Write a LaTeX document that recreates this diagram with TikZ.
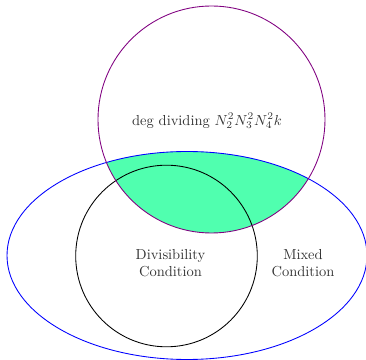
\documentclass[tikz,border=0pt]{standalone}
\definecolor{mint}{RGB}{80,255,175}
\definecolor{ringpurple}{RGB}{128,0,128}
\begin{document}
\begin{tikzpicture}[x=0.69pt,y=-0.69pt,
  lbl/.style={align=center,inner sep=0pt,text=black!80}]
\useasboundingbox (0,0) rectangle (366,360);
\begin{scope}
  \clip (187,255.5) ellipse [x radius=180*0.69pt, y radius=104*0.69pt];
  \fill[mint] (211.5,119.5) circle [radius=113.5*0.69pt];
\end{scope}
\draw[blue, line width=0.6pt] (187,255.5) ellipse [x radius=180*0.69pt, y radius=104*0.69pt];
\draw[black, line width=0.6pt] (166.5,256) circle [radius=90.8*0.69pt];
\draw[ringpurple, line width=0.6pt] (211.5,119.5) circle [radius=113.5*0.69pt];
\node[lbl] (deg) at (207,121) {deg dividing $N_2^2N_3^2N_4^2k$};
\node[lbl] (div) at (170.5,263) {Divisibility\\Condition};
\node[lbl] (mix) at (303,263) {Mixed\\Condition};
\end{tikzpicture}
\end{document}
